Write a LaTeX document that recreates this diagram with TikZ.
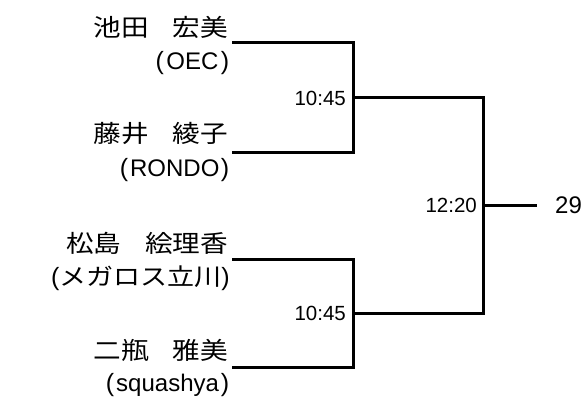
\documentclass[tikz,border=0pt]{standalone}
\usepackage{fontspec}
\setmainfont{Liberation Sans}
\newfontfamily\jpw[FakeStretch=1.15]{Noto Sans CJK JP}
\newcommand\lp{{\fontsize{25}{25}\selectfont(}}
\newcommand\rp{{\fontsize{25}{25}\selectfont)}}
\begin{document}
\begin{tikzpicture}[x=1pt,y=-1pt,
  br/.style={line width=3pt,line cap=rect},
  nm/.style={anchor=east,inner sep=0pt,font=\jpw\fontsize{24}{24}\selectfont},
  af/.style={anchor=east,inner sep=0pt,font=\fontsize{24}{24}\selectfont},
  tm/.style={anchor=east,inner sep=0pt,font=\fontsize{20.5}{20.5}\selectfont},
  res/.style={anchor=west,inner sep=0pt,font=\fontsize{24}{24}\selectfont}]
\useasboundingbox (0,0) rectangle (585,398);
\node[nm] (n1) at (228,27) {池田\hspace{-4pt}　宏美};
\node[af] (c1) at (229.5,63) {\lp\kern2.5pt OEC\kern2.5pt\rp};
\node[nm] (n2) at (228,133) {藤井\hspace{-4pt}　綾子};
\node[af] (c2) at (229.5,170) {\lp\kern2pt RONDO\kern1.5pt\rp};
\node[nm] (n3) at (228,243) {松島\hspace{-4pt}　絵理香};
\node[af] (c3) at (230,278) {\lp{\jpw\fontsize{23.5}{23.5}\selectfont メガロス立川}\rp};
\node[nm] (n4) at (228,350) {二瓶\hspace{-4pt}　雅美};
\node[af] (c4) at (229.5,385) {\lp\kern2pt squashya\kern2pt\rp};
\coordinate (p1) at (233,43);
\coordinate (p2) at (233,152);
\coordinate (p3) at (233,259);
\coordinate (p4) at (233,367);
\coordinate (m1) at (353,98);
\coordinate (m2) at (353,313);
\coordinate (f) at (483,205);
\coordinate (w) at (535,205);
\draw[br] (p1) -| (m1) |- (p2);
\draw[br] (p3) -| (m2) |- (p4);
\draw[br] (m1) -| (f) |- (m2);
\draw[br] (f) -- (w);
\node[tm] (t1) at (346,98) {10:45};
\node[tm] (t2) at (346,313) {10:45};
\node[tm] (t3) at (477,205) {12:20};
\node[res] (r) at (555,205) {29};
\end{tikzpicture}
\end{document}
